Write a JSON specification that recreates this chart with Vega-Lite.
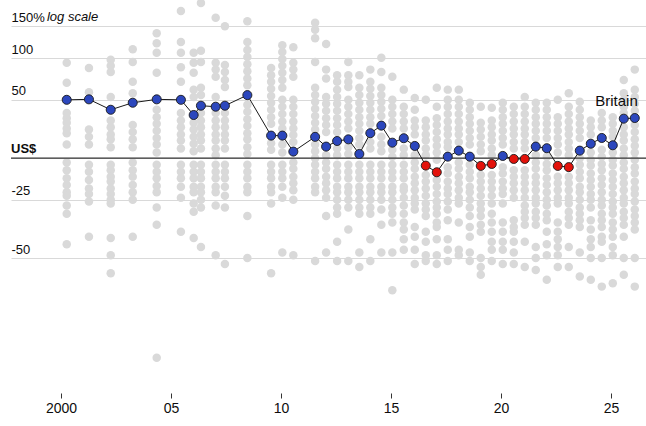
{
"$schema":"https://vega.github.io/schema/vega-lite/v6.json",
"width":635,"height":390,
"autosize":"none",
"padding":{"left":11,"top":0,"right":0,"bottom":36},
"background":"white",
"config":{"view":{"stroke":null},"font":"Liberation Sans"},
"datasets":{
"britain":[
{"t":2000.26,"r":1.50},{"t":2001.27,"r":1.505},{"t":2002.26,"r":1.40},{"t":2003.26,"r":1.47},{"t":2004.35,"r":1.505},{"t":2005.45,"r":1.50},{"t":2006.03,"r":1.35},{"t":2006.36,"r":1.44},{"t":2007.03,"r":1.43},{"t":2007.45,"r":1.44},{"t":2008.47,"r":1.55},{"t":2009.55,"r":1.17},{"t":2010.06,"r":1.17},{"t":2010.56,"r":1.047},{"t":2011.55,"r":1.16},{"t":2012.05,"r":1.084},{"t":2012.55,"r":1.127},{"t":2013.06,"r":1.14},{"t":2013.56,"r":1.03},{"t":2014.06,"r":1.19},{"t":2014.56,"r":1.254},{"t":2015.06,"r":1.114},{"t":2015.58,"r":1.149},{"t":2016.08,"r":1.089},{"t":2016.58,"r":0.95},{"t":2017.08,"r":0.907},{"t":2017.58,"r":1.011},{"t":2018.08,"r":1.054},{"t":2018.58,"r":1.011},{"t":2019.08,"r":0.948},{"t":2019.58,"r":0.961},{"t":2020.08,"r":1.016},{"t":2020.58,"r":0.995},{"t":2021.08,"r":0.995},{"t":2021.58,"r":1.084},{"t":2022.08,"r":1.072},{"t":2022.58,"r":0.948},{"t":2023.08,"r":0.94},{"t":2023.58,"r":1.054},{"t":2024.08,"r":1.106},{"t":2024.58,"r":1.151},{"t":2025.08,"r":1.094},{"t":2025.58,"r":1.316},{"t":2026.08,"r":1.322}
],
"grey":[
{"t":2000.26,"r":1.94},{"t":2000.26,"r":1.69},{"t":2000.26,"r":1.37},{"t":2000.26,"r":1.32},{"t":2000.26,"r":1.28},{"t":2000.26,"r":1.23},{"t":2000.26,"r":1.19},{"t":2000.26,"r":1.10},{"t":2000.26,"r":0.97},{"t":2000.26,"r":0.92},{"t":2000.26,"r":0.87},{"t":2000.26,"r":0.83},{"t":2000.26,"r":0.79},{"t":2000.26,"r":0.77},{"t":2000.26,"r":0.72},{"t":2000.26,"r":0.68},{"t":2000.26,"r":0.55},
{"t":2001.27,"r":1.87},{"t":2001.27,"r":1.58},{"t":2001.27,"r":1.22},{"t":2001.27,"r":1.16},{"t":2001.27,"r":1.10},{"t":2001.27,"r":0.955},{"t":2001.27,"r":0.91},{"t":2001.27,"r":0.86},{"t":2001.27,"r":0.81},{"t":2001.27,"r":0.78},{"t":2001.27,"r":0.74},{"t":2001.27,"r":0.58},
{"t":2002.26,"r":1.98},{"t":2002.26,"r":1.90},{"t":2002.26,"r":1.82},{"t":2002.26,"r":1.53},{"t":2002.26,"r":1.30},{"t":2002.26,"r":1.24},{"t":2002.26,"r":1.18},{"t":2002.26,"r":1.14},{"t":2002.26,"r":1.08},{"t":2002.26,"r":0.955},{"t":2002.26,"r":0.92},{"t":2002.26,"r":0.88},{"t":2002.26,"r":0.85},{"t":2002.26,"r":0.81},{"t":2002.26,"r":0.78},{"t":2002.26,"r":0.75},{"t":2002.26,"r":0.73},{"t":2002.26,"r":0.575},{"t":2002.26,"r":0.51},{"t":2002.26,"r":0.45},
{"t":2003.26,"r":2.13},{"t":2003.26,"r":1.95},{"t":2003.26,"r":1.70},{"t":2003.26,"r":1.57},{"t":2003.26,"r":1.26},{"t":2003.26,"r":1.20},{"t":2003.26,"r":1.14},{"t":2003.26,"r":1.08},{"t":2003.26,"r":0.97},{"t":2003.26,"r":0.92},{"t":2003.26,"r":0.88},{"t":2003.26,"r":0.83},{"t":2003.26,"r":0.79},{"t":2003.26,"r":0.75},{"t":2003.26,"r":0.58},
{"t":2004.35,"r":2.38},{"t":2004.35,"r":2.22},{"t":2004.35,"r":2.08},{"t":2004.35,"r":1.81},{"t":2004.35,"r":1.40},{"t":2004.35,"r":1.33},{"t":2004.35,"r":1.27},{"t":2004.35,"r":1.21},{"t":2004.35,"r":1.15},{"t":2004.35,"r":1.10},{"t":2004.35,"r":1.04},{"t":2004.35,"r":0.955},{"t":2004.35,"r":0.91},{"t":2004.35,"r":0.87},{"t":2004.35,"r":0.825},{"t":2004.35,"r":0.79},{"t":2004.35,"r":0.71},{"t":2004.35,"r":0.63},{"t":2004.35,"r":0.25},
{"t":2005.45,"r":2.78},{"t":2005.45,"r":2.24},{"t":2005.45,"r":2.08},{"t":2005.45,"r":1.88},{"t":2005.45,"r":1.70},{"t":2005.45,"r":1.37},{"t":2005.45,"r":1.30},{"t":2005.45,"r":1.24},{"t":2005.45,"r":1.18},{"t":2005.45,"r":1.13},{"t":2005.45,"r":1.07},{"t":2005.45,"r":0.955},{"t":2005.45,"r":0.91},{"t":2005.45,"r":0.87},{"t":2005.45,"r":0.82},{"t":2005.45,"r":0.76},{"t":2005.45,"r":0.60},
{"t":2006.03,"r":2.08},{"t":2006.03,"r":1.94},{"t":2006.03,"r":1.81},{"t":2006.03,"r":1.61},{"t":2006.03,"r":1.53},{"t":2006.03,"r":1.28},{"t":2006.03,"r":1.22},{"t":2006.03,"r":1.16},{"t":2006.03,"r":1.105},{"t":2006.03,"r":1.05},{"t":2006.03,"r":0.955},{"t":2006.03,"r":0.91},{"t":2006.03,"r":0.87},{"t":2006.03,"r":0.82},{"t":2006.03,"r":0.79},{"t":2006.03,"r":0.73},{"t":2006.03,"r":0.69},{"t":2006.03,"r":0.575},
{"t":2006.36,"r":2.94},{"t":2006.36,"r":2.11},{"t":2006.36,"r":1.95},{"t":2006.36,"r":1.63},{"t":2006.36,"r":1.55},{"t":2006.36,"r":1.37},{"t":2006.36,"r":1.30},{"t":2006.36,"r":1.24},{"t":2006.36,"r":1.18},{"t":2006.36,"r":1.13},{"t":2006.36,"r":1.07},{"t":2006.36,"r":0.955},{"t":2006.36,"r":0.91},{"t":2006.36,"r":0.87},{"t":2006.36,"r":0.82},{"t":2006.36,"r":0.79},{"t":2006.36,"r":0.75},{"t":2006.36,"r":0.71},{"t":2006.36,"r":0.54},
{"t":2007.03,"r":2.65},{"t":2007.03,"r":1.94},{"t":2007.03,"r":1.85},{"t":2007.03,"r":1.76},{"t":2007.03,"r":1.53},{"t":2007.03,"r":1.37},{"t":2007.03,"r":1.30},{"t":2007.03,"r":1.24},{"t":2007.03,"r":1.18},{"t":2007.03,"r":1.13},{"t":2007.03,"r":1.07},{"t":2007.03,"r":1.02},{"t":2007.03,"r":0.955},{"t":2007.03,"r":0.91},{"t":2007.03,"r":0.87},{"t":2007.03,"r":0.82},{"t":2007.03,"r":0.79},{"t":2007.03,"r":0.72},{"t":2007.03,"r":0.51},
{"t":2007.45,"r":2.50},{"t":2007.45,"r":1.91},{"t":2007.45,"r":1.82},{"t":2007.45,"r":1.72},{"t":2007.45,"r":1.64},{"t":2007.45,"r":1.37},{"t":2007.45,"r":1.30},{"t":2007.45,"r":1.24},{"t":2007.45,"r":1.18},{"t":2007.45,"r":1.13},{"t":2007.45,"r":1.07},{"t":2007.45,"r":0.955},{"t":2007.45,"r":0.91},{"t":2007.45,"r":0.87},{"t":2007.45,"r":0.82},{"t":2007.45,"r":0.77},{"t":2007.45,"r":0.71},{"t":2007.45,"r":0.48},
{"t":2008.47,"r":2.59},{"t":2008.47,"r":2.24},{"t":2008.47,"r":2.12},{"t":2008.47,"r":2.02},{"t":2008.47,"r":1.92},{"t":2008.47,"r":1.83},{"t":2008.47,"r":1.74},{"t":2008.47,"r":1.66},{"t":2008.47,"r":1.45},{"t":2008.47,"r":1.38},{"t":2008.47,"r":1.31},{"t":2008.47,"r":1.25},{"t":2008.47,"r":1.19},{"t":2008.47,"r":1.14},{"t":2008.47,"r":1.08},{"t":2008.47,"r":1.03},{"t":2008.47,"r":0.955},{"t":2008.47,"r":0.91},{"t":2008.47,"r":0.87},{"t":2008.47,"r":0.82},{"t":2008.47,"r":0.79},{"t":2008.47,"r":0.67},{"t":2008.47,"r":0.50},
{"t":2009.55,"r":1.87},{"t":2009.55,"r":1.78},{"t":2009.55,"r":1.70},{"t":2009.55,"r":1.62},{"t":2009.55,"r":1.54},{"t":2009.55,"r":1.47},{"t":2009.55,"r":1.40},{"t":2009.55,"r":1.33},{"t":2009.55,"r":1.27},{"t":2009.55,"r":1.11},{"t":2009.55,"r":1.06},{"t":2009.55,"r":0.955},{"t":2009.55,"r":0.91},{"t":2009.55,"r":0.87},{"t":2009.55,"r":0.82},{"t":2009.55,"r":0.79},{"t":2009.55,"r":0.73},{"t":2009.55,"r":0.45},
{"t":2010.06,"r":2.19},{"t":2010.06,"r":2.09},{"t":2010.06,"r":1.99},{"t":2010.06,"r":1.90},{"t":2010.06,"r":1.81},{"t":2010.06,"r":1.72},{"t":2010.06,"r":1.63},{"t":2010.06,"r":1.50},{"t":2010.06,"r":1.43},{"t":2010.06,"r":1.36},{"t":2010.06,"r":1.29},{"t":2010.06,"r":1.23},{"t":2010.06,"r":1.10},{"t":2010.06,"r":1.04},{"t":2010.06,"r":0.955},{"t":2010.06,"r":0.91},{"t":2010.06,"r":0.87},{"t":2010.06,"r":0.82},{"t":2010.06,"r":0.76},{"t":2010.06,"r":0.52},
{"t":2010.56,"r":2.16},{"t":2010.56,"r":1.94},{"t":2010.56,"r":1.85},{"t":2010.56,"r":1.76},{"t":2010.56,"r":1.50},{"t":2010.56,"r":1.43},{"t":2010.56,"r":1.36},{"t":2010.56,"r":1.29},{"t":2010.56,"r":1.23},{"t":2010.56,"r":1.175},{"t":2010.56,"r":1.12},{"t":2010.56,"r":0.97},{"t":2010.56,"r":0.93},{"t":2010.56,"r":0.88},{"t":2010.56,"r":0.84},{"t":2010.56,"r":0.80},{"t":2010.56,"r":0.75},{"t":2010.56,"r":0.51},
{"t":2011.55,"r":2.56},{"t":2011.55,"r":2.44},{"t":2011.55,"r":2.30},{"t":2011.55,"r":1.95},{"t":2011.55,"r":1.63},{"t":2011.55,"r":1.55},{"t":2011.55,"r":1.48},{"t":2011.55,"r":1.41},{"t":2011.55,"r":1.34},{"t":2011.55,"r":1.28},{"t":2011.55,"r":1.22},{"t":2011.55,"r":1.10},{"t":2011.55,"r":1.05},{"t":2011.55,"r":1.00},{"t":2011.55,"r":0.955},{"t":2011.55,"r":0.91},{"t":2011.55,"r":0.87},{"t":2011.55,"r":0.82},{"t":2011.55,"r":0.79},{"t":2011.55,"r":0.49},
{"t":2012.05,"r":2.21},{"t":2012.05,"r":1.85},{"t":2012.05,"r":1.74},{"t":2012.05,"r":1.53},{"t":2012.05,"r":1.46},{"t":2012.05,"r":1.39},{"t":2012.05,"r":1.32},{"t":2012.05,"r":1.26},{"t":2012.05,"r":1.20},{"t":2012.05,"r":1.02},{"t":2012.05,"r":0.97},{"t":2012.05,"r":0.93},{"t":2012.05,"r":0.88},{"t":2012.05,"r":0.84},{"t":2012.05,"r":0.80},{"t":2012.05,"r":0.76},{"t":2012.05,"r":0.67},{"t":2012.05,"r":0.52},
{"t":2012.55,"r":1.78},{"t":2012.55,"r":1.70},{"t":2012.55,"r":1.61},{"t":2012.55,"r":1.53},{"t":2012.55,"r":1.46},{"t":2012.55,"r":1.39},{"t":2012.55,"r":1.32},{"t":2012.55,"r":1.26},{"t":2012.55,"r":1.20},{"t":2012.55,"r":1.07},{"t":2012.55,"r":1.02},{"t":2012.55,"r":0.955},{"t":2012.55,"r":0.91},{"t":2012.55,"r":0.87},{"t":2012.55,"r":0.82},{"t":2012.55,"r":0.79},{"t":2012.55,"r":0.75},{"t":2012.55,"r":0.71},{"t":2012.55,"r":0.68},{"t":2012.55,"r":0.56},{"t":2012.55,"r":0.49},
{"t":2013.06,"r":1.95},{"t":2013.06,"r":1.78},{"t":2013.06,"r":1.70},{"t":2013.06,"r":1.64},{"t":2013.06,"r":1.50},{"t":2013.06,"r":1.43},{"t":2013.06,"r":1.36},{"t":2013.06,"r":1.29},{"t":2013.06,"r":1.23},{"t":2013.06,"r":1.08},{"t":2013.06,"r":1.03},{"t":2013.06,"r":0.955},{"t":2013.06,"r":0.91},{"t":2013.06,"r":0.87},{"t":2013.06,"r":0.82},{"t":2013.06,"r":0.79},{"t":2013.06,"r":0.75},{"t":2013.06,"r":0.71},{"t":2013.06,"r":0.61},{"t":2013.06,"r":0.49},
{"t":2013.56,"r":1.78},{"t":2013.56,"r":1.63},{"t":2013.56,"r":1.55},{"t":2013.56,"r":1.47},{"t":2013.56,"r":1.40},{"t":2013.56,"r":1.33},{"t":2013.56,"r":1.27},{"t":2013.56,"r":1.21},{"t":2013.56,"r":1.15},{"t":2013.56,"r":1.10},{"t":2013.56,"r":0.955},{"t":2013.56,"r":0.91},{"t":2013.56,"r":0.87},{"t":2013.56,"r":0.82},{"t":2013.56,"r":0.79},{"t":2013.56,"r":0.75},{"t":2013.56,"r":0.71},{"t":2013.56,"r":0.68},{"t":2013.56,"r":0.52},{"t":2013.56,"r":0.47},
{"t":2014.06,"r":1.85},{"t":2014.06,"r":1.70},{"t":2014.06,"r":1.62},{"t":2014.06,"r":1.54},{"t":2014.06,"r":1.47},{"t":2014.06,"r":1.40},{"t":2014.06,"r":1.33},{"t":2014.06,"r":1.27},{"t":2014.06,"r":1.12},{"t":2014.06,"r":1.07},{"t":2014.06,"r":0.955},{"t":2014.06,"r":0.91},{"t":2014.06,"r":0.87},{"t":2014.06,"r":0.82},{"t":2014.06,"r":0.79},{"t":2014.06,"r":0.75},{"t":2014.06,"r":0.71},{"t":2014.06,"r":0.68},{"t":2014.06,"r":0.57},{"t":2014.06,"r":0.49},
{"t":2014.56,"r":2.01},{"t":2014.56,"r":1.82},{"t":2014.56,"r":1.63},{"t":2014.56,"r":1.55},{"t":2014.56,"r":1.48},{"t":2014.56,"r":1.41},{"t":2014.56,"r":1.34},{"t":2014.56,"r":1.16},{"t":2014.56,"r":1.10},{"t":2014.56,"r":1.05},{"t":2014.56,"r":0.955},{"t":2014.56,"r":0.91},{"t":2014.56,"r":0.87},{"t":2014.56,"r":0.82},{"t":2014.56,"r":0.79},{"t":2014.56,"r":0.75},{"t":2014.56,"r":0.70},{"t":2014.56,"r":0.63},{"t":2014.56,"r":0.52},
{"t":2015.06,"r":1.76},{"t":2015.06,"r":1.50},{"t":2015.06,"r":1.43},{"t":2015.06,"r":1.36},{"t":2015.06,"r":1.29},{"t":2015.06,"r":1.23},{"t":2015.06,"r":1.06},{"t":2015.06,"r":1.01},{"t":2015.06,"r":0.955},{"t":2015.06,"r":0.91},{"t":2015.06,"r":0.87},{"t":2015.06,"r":0.82},{"t":2015.06,"r":0.79},{"t":2015.06,"r":0.75},{"t":2015.06,"r":0.71},{"t":2015.06,"r":0.68},{"t":2015.06,"r":0.64},{"t":2015.06,"r":0.52},{"t":2015.06,"r":0.40},
{"t":2015.58,"r":1.61},{"t":2015.58,"r":1.43},{"t":2015.58,"r":1.36},{"t":2015.58,"r":1.29},{"t":2015.58,"r":1.23},{"t":2015.58,"r":1.07},{"t":2015.58,"r":1.02},{"t":2015.58,"r":0.955},{"t":2015.58,"r":0.91},{"t":2015.58,"r":0.87},{"t":2015.58,"r":0.82},{"t":2015.58,"r":0.80},{"t":2015.58,"r":0.76},{"t":2015.58,"r":0.72},{"t":2015.58,"r":0.68},{"t":2015.58,"r":0.64},{"t":2015.58,"r":0.61},{"t":2015.58,"r":0.57},{"t":2015.58,"r":0.53},
{"t":2016.08,"r":1.52},{"t":2016.08,"r":1.40},{"t":2016.08,"r":1.30},{"t":2016.08,"r":1.24},{"t":2016.08,"r":1.18},{"t":2016.08,"r":1.02},{"t":2016.08,"r":0.97},{"t":2016.08,"r":0.93},{"t":2016.08,"r":0.88},{"t":2016.08,"r":0.84},{"t":2016.08,"r":0.80},{"t":2016.08,"r":0.76},{"t":2016.08,"r":0.73},{"t":2016.08,"r":0.70},{"t":2016.08,"r":0.62},{"t":2016.08,"r":0.58},{"t":2016.08,"r":0.53},{"t":2016.08,"r":0.48},
{"t":2016.58,"r":1.50},{"t":2016.58,"r":1.30},{"t":2016.58,"r":1.24},{"t":2016.58,"r":1.18},{"t":2016.58,"r":1.13},{"t":2016.58,"r":1.07},{"t":2016.58,"r":1.02},{"t":2016.58,"r":0.89},{"t":2016.58,"r":0.85},{"t":2016.58,"r":0.81},{"t":2016.58,"r":0.77},{"t":2016.58,"r":0.73},{"t":2016.58,"r":0.70},{"t":2016.58,"r":0.67},{"t":2016.58,"r":0.60},{"t":2016.58,"r":0.56},{"t":2016.58,"r":0.51},{"t":2016.58,"r":0.49},
{"t":2017.08,"r":1.63},{"t":2017.08,"r":1.43},{"t":2017.08,"r":1.32},{"t":2017.08,"r":1.26},{"t":2017.08,"r":1.20},{"t":2017.08,"r":1.14},{"t":2017.08,"r":1.09},{"t":2017.08,"r":1.04},{"t":2017.08,"r":0.99},{"t":2017.08,"r":0.86},{"t":2017.08,"r":0.82},{"t":2017.08,"r":0.78},{"t":2017.08,"r":0.74},{"t":2017.08,"r":0.71},{"t":2017.08,"r":0.68},{"t":2017.08,"r":0.64},{"t":2017.08,"r":0.62},{"t":2017.08,"r":0.57},{"t":2017.08,"r":0.51},{"t":2017.08,"r":0.48},
{"t":2017.58,"r":1.61},{"t":2017.58,"r":1.50},{"t":2017.58,"r":1.43},{"t":2017.58,"r":1.36},{"t":2017.58,"r":1.29},{"t":2017.58,"r":1.23},{"t":2017.58,"r":1.18},{"t":2017.58,"r":1.12},{"t":2017.58,"r":1.08},{"t":2017.58,"r":0.94},{"t":2017.58,"r":0.90},{"t":2017.58,"r":0.85},{"t":2017.58,"r":0.81},{"t":2017.58,"r":0.78},{"t":2017.58,"r":0.74},{"t":2017.58,"r":0.70},{"t":2017.58,"r":0.65},{"t":2017.58,"r":0.57},{"t":2017.58,"r":0.53},{"t":2017.58,"r":0.49},
{"t":2018.08,"r":1.61},{"t":2018.08,"r":1.50},{"t":2018.08,"r":1.43},{"t":2018.08,"r":1.36},{"t":2018.08,"r":1.29},{"t":2018.08,"r":1.23},{"t":2018.08,"r":1.18},{"t":2018.08,"r":1.12},{"t":2018.08,"r":0.97},{"t":2018.08,"r":0.93},{"t":2018.08,"r":0.88},{"t":2018.08,"r":0.84},{"t":2018.08,"r":0.80},{"t":2018.08,"r":0.76},{"t":2018.08,"r":0.73},{"t":2018.08,"r":0.64},{"t":2018.08,"r":0.53},{"t":2018.08,"r":0.51},
{"t":2018.58,"r":1.47},{"t":2018.58,"r":1.40},{"t":2018.58,"r":1.33},{"t":2018.58,"r":1.27},{"t":2018.58,"r":1.21},{"t":2018.58,"r":1.15},{"t":2018.58,"r":1.10},{"t":2018.58,"r":0.955},{"t":2018.58,"r":0.91},{"t":2018.58,"r":0.87},{"t":2018.58,"r":0.82},{"t":2018.58,"r":0.79},{"t":2018.58,"r":0.75},{"t":2018.58,"r":0.71},{"t":2018.58,"r":0.67},{"t":2018.58,"r":0.62},{"t":2018.58,"r":0.58},{"t":2018.58,"r":0.52},{"t":2018.58,"r":0.49},
{"t":2019.08,"r":1.43},{"t":2019.08,"r":1.28},{"t":2019.08,"r":1.22},{"t":2019.08,"r":1.16},{"t":2019.08,"r":1.10},{"t":2019.08,"r":1.05},{"t":2019.08,"r":0.89},{"t":2019.08,"r":0.85},{"t":2019.08,"r":0.81},{"t":2019.08,"r":0.77},{"t":2019.08,"r":0.73},{"t":2019.08,"r":0.70},{"t":2019.08,"r":0.67},{"t":2019.08,"r":0.63},{"t":2019.08,"r":0.60},{"t":2019.08,"r":0.50},{"t":2019.08,"r":0.47},{"t":2019.08,"r":0.445},
{"t":2019.58,"r":1.42},{"t":2019.58,"r":1.30},{"t":2019.58,"r":1.24},{"t":2019.58,"r":1.18},{"t":2019.58,"r":1.13},{"t":2019.58,"r":1.07},{"t":2019.58,"r":1.02},{"t":2019.58,"r":0.89},{"t":2019.58,"r":0.85},{"t":2019.58,"r":0.81},{"t":2019.58,"r":0.77},{"t":2019.58,"r":0.73},{"t":2019.58,"r":0.68},{"t":2019.58,"r":0.64},{"t":2019.58,"r":0.60},{"t":2019.58,"r":0.56},{"t":2019.58,"r":0.53},{"t":2019.58,"r":0.49},
{"t":2020.08,"r":1.47},{"t":2020.08,"r":1.40},{"t":2020.08,"r":1.33},{"t":2020.08,"r":1.27},{"t":2020.08,"r":1.21},{"t":2020.08,"r":1.15},{"t":2020.08,"r":1.10},{"t":2020.08,"r":0.94},{"t":2020.08,"r":0.90},{"t":2020.08,"r":0.85},{"t":2020.08,"r":0.81},{"t":2020.08,"r":0.78},{"t":2020.08,"r":0.73},{"t":2020.08,"r":0.64},{"t":2020.08,"r":0.60},{"t":2020.08,"r":0.56},{"t":2020.08,"r":0.53},{"t":2020.08,"r":0.48},
{"t":2020.58,"r":1.43},{"t":2020.58,"r":1.36},{"t":2020.58,"r":1.29},{"t":2020.58,"r":1.23},{"t":2020.58,"r":1.18},{"t":2020.58,"r":1.12},{"t":2020.58,"r":1.07},{"t":2020.58,"r":0.92},{"t":2020.58,"r":0.88},{"t":2020.58,"r":0.84},{"t":2020.58,"r":0.80},{"t":2020.58,"r":0.76},{"t":2020.58,"r":0.65},{"t":2020.58,"r":0.62},{"t":2020.58,"r":0.60},{"t":2020.58,"r":0.56},{"t":2020.58,"r":0.52},{"t":2020.58,"r":0.48},
{"t":2021.08,"r":1.53},{"t":2021.08,"r":1.43},{"t":2021.08,"r":1.36},{"t":2021.08,"r":1.29},{"t":2021.08,"r":1.23},{"t":2021.08,"r":1.18},{"t":2021.08,"r":1.12},{"t":2021.08,"r":1.07},{"t":2021.08,"r":0.92},{"t":2021.08,"r":0.88},{"t":2021.08,"r":0.84},{"t":2021.08,"r":0.80},{"t":2021.08,"r":0.76},{"t":2021.08,"r":0.72},{"t":2021.08,"r":0.69},{"t":2021.08,"r":0.66},{"t":2021.08,"r":0.63},{"t":2021.08,"r":0.56},{"t":2021.08,"r":0.47},
{"t":2021.58,"r":1.47},{"t":2021.58,"r":1.40},{"t":2021.58,"r":1.33},{"t":2021.58,"r":1.27},{"t":2021.58,"r":1.21},{"t":2021.58,"r":1.15},{"t":2021.58,"r":1.02},{"t":2021.58,"r":0.97},{"t":2021.58,"r":0.93},{"t":2021.58,"r":0.88},{"t":2021.58,"r":0.84},{"t":2021.58,"r":0.80},{"t":2021.58,"r":0.76},{"t":2021.58,"r":0.73},{"t":2021.58,"r":0.69},{"t":2021.58,"r":0.66},{"t":2021.58,"r":0.63},{"t":2021.58,"r":0.54},{"t":2021.58,"r":0.50},{"t":2021.58,"r":0.46},
{"t":2022.08,"r":1.47},{"t":2022.08,"r":1.40},{"t":2022.08,"r":1.33},{"t":2022.08,"r":1.27},{"t":2022.08,"r":1.21},{"t":2022.08,"r":1.15},{"t":2022.08,"r":1.01},{"t":2022.08,"r":0.96},{"t":2022.08,"r":0.92},{"t":2022.08,"r":0.87},{"t":2022.08,"r":0.83},{"t":2022.08,"r":0.79},{"t":2022.08,"r":0.75},{"t":2022.08,"r":0.72},{"t":2022.08,"r":0.68},{"t":2022.08,"r":0.65},{"t":2022.08,"r":0.60},{"t":2022.08,"r":0.55},{"t":2022.08,"r":0.51},{"t":2022.08,"r":0.43},
{"t":2022.58,"r":1.50},{"t":2022.58,"r":1.33},{"t":2022.58,"r":1.27},{"t":2022.58,"r":1.21},{"t":2022.58,"r":1.15},{"t":2022.58,"r":1.10},{"t":2022.58,"r":1.04},{"t":2022.58,"r":0.88},{"t":2022.58,"r":0.84},{"t":2022.58,"r":0.80},{"t":2022.58,"r":0.76},{"t":2022.58,"r":0.73},{"t":2022.58,"r":0.64},{"t":2022.58,"r":0.60},{"t":2022.58,"r":0.57},{"t":2022.58,"r":0.54},{"t":2022.58,"r":0.51},{"t":2022.58,"r":0.47},
{"t":2023.08,"r":1.57},{"t":2023.08,"r":1.43},{"t":2023.08,"r":1.36},{"t":2023.08,"r":1.29},{"t":2023.08,"r":1.23},{"t":2023.08,"r":1.18},{"t":2023.08,"r":1.12},{"t":2023.08,"r":1.07},{"t":2023.08,"r":1.02},{"t":2023.08,"r":0.88},{"t":2023.08,"r":0.84},{"t":2023.08,"r":0.80},{"t":2023.08,"r":0.76},{"t":2023.08,"r":0.73},{"t":2023.08,"r":0.69},{"t":2023.08,"r":0.66},{"t":2023.08,"r":0.63},{"t":2023.08,"r":0.54},{"t":2023.08,"r":0.47},
{"t":2023.58,"r":1.48},{"t":2023.58,"r":1.40},{"t":2023.58,"r":1.33},{"t":2023.58,"r":1.27},{"t":2023.58,"r":1.21},{"t":2023.58,"r":1.15},{"t":2023.58,"r":1.00},{"t":2023.58,"r":0.955},{"t":2023.58,"r":0.91},{"t":2023.58,"r":0.87},{"t":2023.58,"r":0.82},{"t":2023.58,"r":0.79},{"t":2023.58,"r":0.75},{"t":2023.58,"r":0.71},{"t":2023.58,"r":0.68},{"t":2023.58,"r":0.65},{"t":2023.58,"r":0.62},{"t":2023.58,"r":0.52},{"t":2023.58,"r":0.44},
{"t":2024.08,"r":1.30},{"t":2024.08,"r":1.24},{"t":2024.08,"r":1.18},{"t":2024.08,"r":1.04},{"t":2024.08,"r":0.99},{"t":2024.08,"r":0.95},{"t":2024.08,"r":0.90},{"t":2024.08,"r":0.86},{"t":2024.08,"r":0.82},{"t":2024.08,"r":0.78},{"t":2024.08,"r":0.75},{"t":2024.08,"r":0.71},{"t":2024.08,"r":0.65},{"t":2024.08,"r":0.61},{"t":2024.08,"r":0.57},{"t":2024.08,"r":0.54},{"t":2024.08,"r":0.50},{"t":2024.08,"r":0.43},
{"t":2024.58,"r":1.37},{"t":2024.58,"r":1.30},{"t":2024.58,"r":1.24},{"t":2024.58,"r":1.06},{"t":2024.58,"r":1.01},{"t":2024.58,"r":0.96},{"t":2024.58,"r":0.92},{"t":2024.58,"r":0.87},{"t":2024.58,"r":0.83},{"t":2024.58,"r":0.79},{"t":2024.58,"r":0.75},{"t":2024.58,"r":0.72},{"t":2024.58,"r":0.68},{"t":2024.58,"r":0.65},{"t":2024.58,"r":0.62},{"t":2024.58,"r":0.58},{"t":2024.58,"r":0.56},{"t":2024.58,"r":0.50},{"t":2024.58,"r":0.41},
{"t":2025.08,"r":1.33},{"t":2025.08,"r":1.27},{"t":2025.08,"r":1.21},{"t":2025.08,"r":1.16},{"t":2025.08,"r":1.04},{"t":2025.08,"r":0.99},{"t":2025.08,"r":0.95},{"t":2025.08,"r":0.90},{"t":2025.08,"r":0.86},{"t":2025.08,"r":0.82},{"t":2025.08,"r":0.78},{"t":2025.08,"r":0.74},{"t":2025.08,"r":0.71},{"t":2025.08,"r":0.68},{"t":2025.08,"r":0.64},{"t":2025.08,"r":0.61},{"t":2025.08,"r":0.58},{"t":2025.08,"r":0.54},{"t":2025.08,"r":0.51},{"t":2025.08,"r":0.42},
{"t":2025.58,"r":1.72},{"t":2025.58,"r":1.57},{"t":2025.58,"r":1.50},{"t":2025.58,"r":1.43},{"t":2025.58,"r":1.37},{"t":2025.58,"r":1.24},{"t":2025.58,"r":1.18},{"t":2025.58,"r":1.13},{"t":2025.58,"r":1.07},{"t":2025.58,"r":1.02},{"t":2025.58,"r":0.97},{"t":2025.58,"r":0.93},{"t":2025.58,"r":0.88},{"t":2025.58,"r":0.84},{"t":2025.58,"r":0.80},{"t":2025.58,"r":0.76},{"t":2025.58,"r":0.73},{"t":2025.58,"r":0.69},{"t":2025.58,"r":0.66},{"t":2025.58,"r":0.63},{"t":2025.58,"r":0.58},{"t":2025.58,"r":0.50},{"t":2025.58,"r":0.445},
{"t":2026.08,"r":1.85},{"t":2026.08,"r":1.61},{"t":2026.08,"r":1.53},{"t":2026.08,"r":1.46},{"t":2026.08,"r":1.39},{"t":2026.08,"r":1.26},{"t":2026.08,"r":1.20},{"t":2026.08,"r":1.14},{"t":2026.08,"r":1.09},{"t":2026.08,"r":1.04},{"t":2026.08,"r":0.99},{"t":2026.08,"r":0.94},{"t":2026.08,"r":0.90},{"t":2026.08,"r":0.85},{"t":2026.08,"r":0.81},{"t":2026.08,"r":0.78},{"t":2026.08,"r":0.74},{"t":2026.08,"r":0.70},{"t":2026.08,"r":0.67},{"t":2026.08,"r":0.64},{"t":2026.08,"r":0.61},{"t":2026.08,"r":0.50},{"t":2026.08,"r":0.41}
]
},
"encoding":{
 "x":{"field":"t","type":"quantitative","scale":{"domain":[1997.727,2026.59],"nice":false,"zero":false},
  "axis":{"values":[2000,2005,2010,2015,2020,2025],"labelExpr":"datum.value == 2000 ? '2000' : datum.value == 2005 ? '05' : datum.value == 2010 ? '10' : datum.value == 2015 ? '15' : datum.value == 2020 ? '20' : '25'","grid":false,"domain":false,"ticks":true,"tickSize":5,"tickColor":"#333333","tickWidth":1,"offset":3,"labelPadding":3,"labelFontSize":14,"labelColor":"#0d0d0d","title":null,"labelFlush":false,"labelOverlap":false}},
 "y":{"field":"r","type":"quantitative","scale":{"type":"log","domain":[0.2,3.0],"nice":false,"zero":false},
  "axis":{"values":[0.5,0.75,1,1.5,2,2.5],"labelExpr":"datum.value == 2.5 ? '150%' : datum.value == 2 ? '100' : datum.value == 1.5 ? '50' : datum.value == 1 ? '' : datum.value == 0.75 ? '-25' : '-50'","grid":true,"gridColor":"#d9d9d9","gridWidth":1,"domain":false,"ticks":false,"labelAlign":"left","labelBaseline":"alphabetic","labelPadding":0,"labelOffset":-5,"labelFontSize":13,"labelColor":"#0d0d0d","title":null,"labelFlush":false,"labelOverlap":false,"labelBound":false}}
},
"layer":[
{"data":{"name":"grey"},
 "mark":{"type":"circle","size":72,"color":"#d9d9d9","opacity":1}},
{"data":{"values":[{"t":1997.727,"r":1},{"t":2026.59,"r":1}]},
 "mark":{"type":"line","color":"#333333","strokeWidth":1.2}},
{"data":{"name":"britain"},
 "mark":{"type":"line","color":"#1a1a1a","strokeWidth":1}},
{"data":{"name":"britain"},
 "mark":{"type":"circle","size":82,"stroke":"#1a1a1a","strokeWidth":0.9,"opacity":1},
 "encoding":{"fill":{"condition":{"test":"datum.r < 1","value":"#e3120b"},"value":"#2c47bd"}}},
{"data":{"values":[{"t":2026.08,"r":1.322,"label":"Britain"}]},
 "mark":{"type":"text","align":"right","baseline":"alphabetic","dx":3,"dy":-12,"fontSize":15,"color":"#0d0d0d"},
 "encoding":{"text":{"field":"label"}}},
{"data":{"values":[{"t":1999.36,"r":2.5,"label":"log scale"}]},
 "mark":{"type":"text","align":"left","baseline":"alphabetic","dy":-5,"fontSize":13,"fontStyle":"italic","color":"#0d0d0d"},
 "encoding":{"text":{"field":"label"}}},
{"data":{"values":[{"t":1997.727,"r":1,"label":"US$"}]},
 "mark":{"type":"text","align":"left","baseline":"alphabetic","dy":-5,"fontSize":13,"fontWeight":"bold","color":"#0d0d0d"},
 "encoding":{"text":{"field":"label"}}}
]
}
